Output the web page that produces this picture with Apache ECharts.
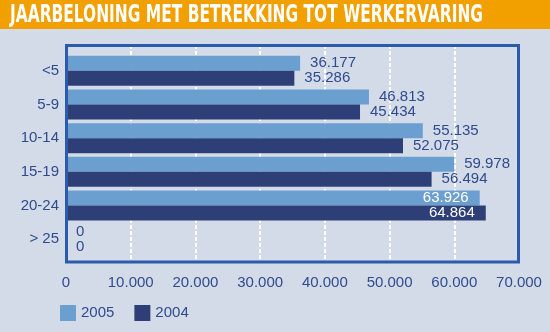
<!DOCTYPE html>
<html><head><meta charset="utf-8">
<script src="https://cdn.jsdelivr.net/npm/echarts@6/dist/echarts.min.js"></script>
<style>html,body{margin:0;padding:0;background:#d4dbe8}#c{width:550px;height:332px}</style>
</head><body><div id="c"></div>
<script>
const title = 'JAARBELONING MET BETREKKING TOT WERKERVARING';
const categories = ['<5', '5-9', '10-14', '15-19', '20-24', '> 25'];
const seriesNames = ['2005', '2004'];
const values2005 = [36177, 46813, 55135, 59978, 63926, 0];
const values2004 = [35286, 45434, 52075, 56494, 64864, 0];
const xTicks = [0, 10000, 20000, 30000, 40000, 50000, 60000, 70000];

const textColor = '#2f4b8e';
const fontFam = '"Liberation Sans", Arial, sans-serif';
const fmt = v => String(v).replace(/\B(?=(\d{3})+(?!\d))/g, '.');

// fit title width
const cv = document.createElement('canvas').getContext('2d');
const titleFont = 'bold 24px "DejaVu Sans Condensed"';
cv.font = titleFont;
const tw = cv.measureText(title).width;
const sx = 473 / tw;

function mk(vals) {
  return vals.map(v => {
    const inside = v > 62000;
    return {
      value: v,
      label: inside ? {position: 'insideRight', distance: 11, color: '#ffffff'} : undefined
    };
  });
}

const chart = echarts.init(document.getElementById('c'), null, {renderer: 'canvas'});
chart.setOption({
  backgroundColor: '#d4dbe8',
  animation: false,
  textStyle: {fontFamily: fontFam},
  graphic: [
    {type: 'rect', shape: {x: 0, y: 0, width: 550, height: 29}, style: {fill: '#f29f00'}, z: 10},
    {type: 'text', x: 10, y: 4, scaleX: sx, style: {text: title, font: titleFont, fill: '#ffffff', textVerticalAlign: 'top'}, z: 11},
    {type: 'rect', shape: {x: 66.5, y: 45.5, width: 452, height: 216.5}, style: {fill: null, stroke: '#2a5cab', lineWidth: 3}, z: 20}
  ],
  legend: {
    left: 60, top: 305, itemWidth: 16, itemHeight: 16, itemGap: 20, padding: 0,
    icon: 'rect',
    textStyle: {color: textColor, fontSize: 15, fontFamily: fontFam},
    data: seriesNames
  },
  grid: [
    {left: 66, right: 31, top: 45, bottom: 69, show: false, containLabel: false},
    {left: 66, right: 31, top: 54, bottom: 76, containLabel: false}
  ],
  xAxis: [
    {gridIndex: 0, type: 'value', min: xTicks[0], max: xTicks[xTicks.length - 1], interval: 10000,
     axisLine: {show: false}, axisTick: {show: false},
     splitLine: {show: true, lineStyle: {color: '#ffffff', type: [4, 2], width: 2}},
     axisLabel: {color: textColor, fontSize: 15, margin: 12, formatter: v => fmt(v)}},
    {gridIndex: 1, type: 'value', min: xTicks[0], max: xTicks[xTicks.length - 1], show: false, splitLine: {show: false}}
  ],
  yAxis: [
    {gridIndex: 0, type: 'category', data: categories, show: false},
    {gridIndex: 1, type: 'category', data: categories, inverse: true,
     axisLine: {show: false}, axisTick: {show: false},
     axisLabel: {color: textColor, fontSize: 15, margin: 7}}
  ],
  series: [
    {name: seriesNames[0], type: 'bar', xAxisIndex: 1, yAxisIndex: 1, data: mk(values2005),
     itemStyle: {color: '#6a9fd0'}, barGap: '0%', barCategoryGap: '11%',
     label: {show: true, position: 'right', distance: 10, color: textColor, fontSize: 15, formatter: p => fmt(p.value)}},
    {name: seriesNames[1], type: 'bar', xAxisIndex: 1, yAxisIndex: 1, data: mk(values2004),
     itemStyle: {color: '#2e3f78'}, barGap: '0%', barCategoryGap: '11%',
     label: {show: true, position: 'right', distance: 10, color: textColor, fontSize: 15, formatter: p => fmt(p.value)}}
  ]
});
</script></body></html>
